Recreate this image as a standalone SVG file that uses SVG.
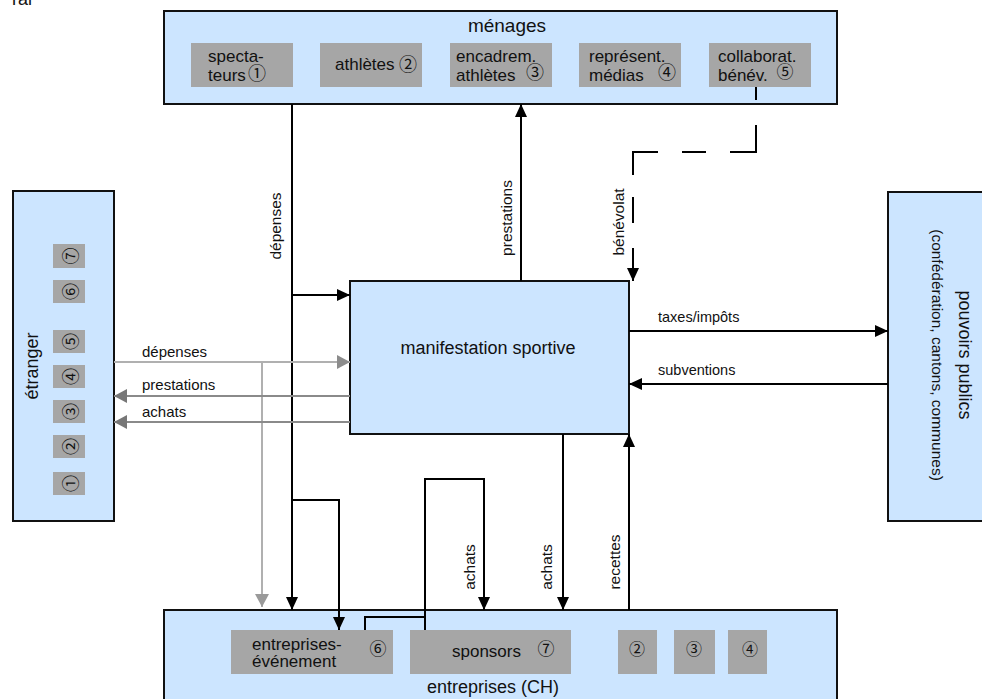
<svg xmlns="http://www.w3.org/2000/svg" width="982" height="699" viewBox="0 0 982 699">
<style>
.box{fill:#cce5ff;stroke:#111;stroke-width:2}
.g{fill:#a6a6a6}
.t{font-family:"Liberation Sans",Arial,sans-serif;fill:#111}
.c{font-family:"Noto Sans CJK JP","DejaVu Sans",sans-serif;fill:#111;text-anchor:middle;dominant-baseline:central}
.bl{fill:none;stroke:#000;stroke-width:2}
.lg{fill:none;stroke:#b0b0b0;stroke-width:2}
.dg{fill:none;stroke:#8a8a8a;stroke-width:2}
</style>
<defs>
<marker id="ab" markerWidth="13" markerHeight="12" refX="13" refY="6" orient="auto" markerUnits="userSpaceOnUse"><path d="M0,0 L13,6 L0,12 z" fill="#000"/></marker>
<marker id="ag1" markerWidth="13" markerHeight="14" refX="13" refY="7" orient="auto" markerUnits="userSpaceOnUse"><path d="M0,0 L13,7 L0,14 z" fill="#8c8c8c"/></marker>
<marker id="ag2" markerWidth="13" markerHeight="14" refX="13" refY="7" orient="auto" markerUnits="userSpaceOnUse"><path d="M0,0 L13,7 L0,14 z" fill="#9a9a9a"/></marker>
<marker id="ag3" markerWidth="13" markerHeight="14" refX="13" refY="7" orient="auto" markerUnits="userSpaceOnUse"><path d="M0,0 L13,7 L0,14 z" fill="#777"/></marker>
</defs>
<rect width="982" height="699" fill="#fff"/>
<text class="t" x="12" y="5" font-size="18">ral</text>

<g id="menages">
<rect class="box" x="164" y="11" width="673" height="93"/>
<text class="t" x="507" y="32" font-size="19" text-anchor="middle">ménages</text>
<rect class="g" x="191" y="43" width="102" height="44"/>
<text class="t" font-size="17"><tspan x="208" y="62">specta-</tspan><tspan x="208" y="81">teurs</tspan></text>
<text class="c" x="257" y="72" font-size="18">①</text>
<rect class="g" x="320" y="43" width="102" height="44"/>
<text class="t" x="335" y="70" font-size="17">athlètes</text>
<text class="c" x="408" y="63" font-size="18">②</text>
<rect class="g" x="450" y="43" width="102" height="44"/>
<text class="t" font-size="17"><tspan x="456" y="62">encadrem.</tspan><tspan x="456" y="81">athlètes</tspan></text>
<text class="c" x="535" y="71" font-size="18">③</text>
<rect class="g" x="579" y="43" width="102" height="44"/>
<text class="t" font-size="17"><tspan x="589" y="62">représent.</tspan><tspan x="589" y="81">médias</tspan></text>
<text class="c" x="667" y="71" font-size="18">④</text>
<rect class="g" x="709" y="43" width="102" height="44"/>
<text class="t" font-size="17"><tspan x="718" y="62">collaborat.</tspan><tspan x="718" y="81">bénév.</tspan></text>
<text class="c" x="785" y="70" font-size="17">⑤</text>
</g>

<g id="etranger">
<rect class="box" x="13" y="191" width="101" height="330"/>
<text class="t" font-size="18" text-anchor="middle" transform="translate(38,366) rotate(-90)">étranger</text>
<rect class="g" x="53" y="244" width="32" height="24"/>
<rect class="g" x="53" y="280" width="32" height="23"/>
<rect class="g" x="53" y="330" width="32" height="23"/>
<rect class="g" x="53" y="365" width="32" height="23"/>
<rect class="g" x="53" y="400" width="32" height="23"/>
<rect class="g" x="53" y="435" width="32" height="23"/>
<rect class="g" x="53" y="472" width="32" height="23"/>
<text class="c" font-size="17" transform="translate(69,256) rotate(-90)">⑦</text>
<text class="c" font-size="17" transform="translate(69,291.5) rotate(-90)">⑥</text>
<text class="c" font-size="17" transform="translate(69,341.5) rotate(-90)">⑤</text>
<text class="c" font-size="17" transform="translate(69,376.5) rotate(-90)">④</text>
<text class="c" font-size="17" transform="translate(69,411.5) rotate(-90)">③</text>
<text class="c" font-size="17" transform="translate(69,446.5) rotate(-90)">②</text>
<text class="c" font-size="17" transform="translate(69,483.5) rotate(-90)">①</text>
</g>

<g id="pouvoirs">
<rect class="box" x="888" y="192" width="110" height="329"/>
<text class="t" font-size="18" text-anchor="middle" transform="translate(959,355) rotate(90)">pouvoirs publics</text>
<text class="t" font-size="15.5" text-anchor="middle" transform="translate(932,355) rotate(90)">(confédération, cantons, communes)</text>
</g>

<g id="manifestation">
<rect class="box" x="350" y="281" width="279" height="153"/>
<text class="t" x="488" y="354" font-size="18" text-anchor="middle">manifestation sportive</text>
</g>

<g id="entreprises">
<rect class="box" x="164" y="610" width="673" height="100"/>
<text class="t" x="493" y="693" font-size="18" text-anchor="middle">entreprises (CH)</text>
<rect class="g" x="231" y="630" width="162" height="44"/>
<text class="t" font-size="17"><tspan x="252" y="650">entreprises-</tspan><tspan x="252" y="667">événement</tspan></text>
<text class="c" x="378" y="647" font-size="17">⑥</text>
<rect class="g" x="410" y="630" width="161" height="44"/>
<text class="t" x="452" y="657" font-size="17">sponsors</text>
<text class="c" x="546" y="647" font-size="17">⑦</text>
<rect class="g" x="618" y="630" width="39" height="44"/>
<text class="c" x="637" y="648" font-size="16">②</text>
<rect class="g" x="674" y="630" width="41" height="44"/>
<text class="c" x="694" y="648" font-size="16">③</text>
<rect class="g" x="728" y="630" width="39" height="44"/>
<text class="c" x="750" y="648" font-size="16">④</text>
</g>

<g id="connectors">
<path class="bl" d="M292,104 V610" marker-end="url(#ab)"/>
<path class="bl" d="M292,295 H350" marker-end="url(#ab)"/>
<path class="bl" d="M292,500 H339 V630" marker-end="url(#ab)"/>
<text class="t" font-size="15.5" text-anchor="middle" transform="translate(281,226) rotate(-90)">dépenses</text>

<path class="bl" d="M521,281 V104" marker-end="url(#ab)"/>
<text class="t" font-size="15.5" text-anchor="middle" transform="translate(512,218) rotate(-90)">prestations</text>

<path class="bl" d="M756,87 V100 M756,125 V152 H730 M706,152 H682 M658,152 H633 V175 M633,197 V223 M633,248 V270"/>
<path class="bl" d="M633,265 V281" marker-end="url(#ab)"/>
<text class="t" font-size="15.5" text-anchor="middle" transform="translate(624,222) rotate(-90)">bénévolat</text>

<path class="bl" d="M629,331 H888" marker-end="url(#ab)"/>
<text class="t" x="658" y="322" font-size="14.5">taxes/impôts</text>
<path class="bl" d="M888,384 H629" marker-end="url(#ab)"/>
<text class="t" x="658" y="375" font-size="14.5">subventions</text>

<path class="lg" d="M114,362 H350" marker-end="url(#ag1)"/>
<text class="t" x="142" y="357" font-size="15">dépenses</text>
<path class="lg" d="M262,362 V607" marker-end="url(#ag2)"/>
<path class="dg" d="M350,396 H114" marker-end="url(#ag3)"/>
<text class="t" x="142" y="390" font-size="15">prestations</text>
<path class="dg" d="M350,422 H114" marker-end="url(#ag3)"/>
<text class="t" x="142" y="417" font-size="15">achats</text>

<path class="bl" d="M563,434 V610" marker-end="url(#ab)"/>
<text class="t" font-size="15.5" text-anchor="middle" transform="translate(552,567) rotate(-90)">achats</text>
<path class="bl" d="M629,610 V434" marker-end="url(#ab)"/>
<text class="t" font-size="15.5" text-anchor="middle" transform="translate(620,562) rotate(-90)">recettes</text>

<path class="bl" d="M425,630 V479 H484 V610" marker-end="url(#ab)"/>
<path class="bl" d="M365,630 V617 H425"/>
<text class="t" font-size="15.5" text-anchor="middle" transform="translate(475,567) rotate(-90)">achats</text>
</g>
</svg>
